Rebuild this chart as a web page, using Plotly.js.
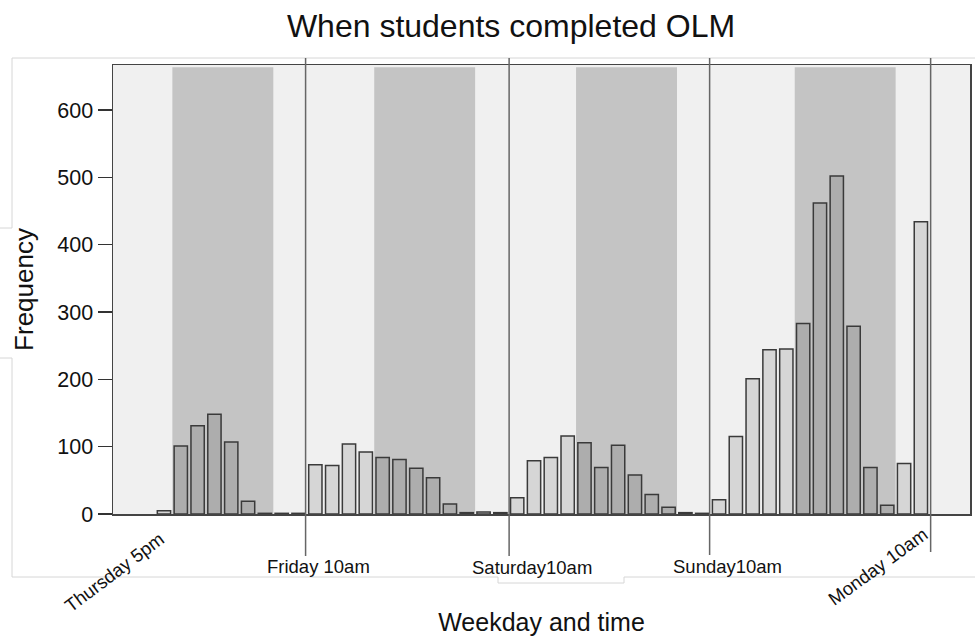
<!DOCTYPE html>
<html>
<head>
<meta charset="utf-8">
<script src="https://cdn.plot.ly/plotly-3.0.1.min.js"></script>
<style>
  html, body { margin: 0; padding: 0; background: #ffffff; }
  #chart { width: 975px; height: 639px; }
</style>
</head>
<body>
<div id="chart"></div>
<script>
// ---- data ----
// two-hour bins starting Thursday 5pm
const bins = [0, 1, 2, 3, 4, 5, 6, 7, 8,
  9, 10, 11, 12, 13, 14, 15, 16, 17, 18, 19, 20,
  21, 22, 23, 24, 25, 26, 27, 28, 29, 30, 31, 32,
  33, 34, 35, 36, 37, 38, 39, 40, 41, 42, 43, 44, 45];
const frequency = [5, 101, 131, 148, 107, 19, 1, 1, 1,
  73, 72, 104, 92, 84, 81, 68, 54, 15, 2, 3, 2,
  24, 79, 84, 116, 106, 69, 102, 58, 29, 10, 2, 1,
  21, 115, 201, 244, 245, 283, 462, 502, 279, 69, 13, 75, 434];
// shaded (night) periods, in bin units
const nightStart = [0.5, 12.5, 24.5, 37.5];
const nightEnd = [6.5, 18.5, 30.5, 43.5];
// day markers
const markerX = [8.42, 20.52, 32.44, 45.58];
const dayLabels = ['Thursday 5pm', 'Friday 10am', 'Saturday10am', 'Sunday10am', 'Monday 10am'];
const dayLabelX = [-2.99, 9.18, 21.88, 33.49, 42.43];
const yTicks = [0, 100, 200, 300, 400, 500, 600];

// ---- layout geometry ----
const W = 975, H = 639;
const M = {l: 113, r: 5, t: 65, b: 125};
const PW = W - M.l - M.r, PH = H - M.t - M.b;
const px = x => (x - M.l) / PW;
const py = y => (M.t + PH - y) / PH;

const FONT = 'Liberation Sans, Arial, sans-serif';

function isNight(b) {
  for (let i = 0; i < nightStart.length; i++) {
    if (b > nightStart[i] && b < nightEnd[i]) return true;
  }
  return false;
}
const barColors = bins.map(b => isNight(b) ? '#adadad' : '#d6d6d6');

const shapes = [];
// shaded night periods
for (let i = 0; i < nightStart.length; i++) {
  shapes.push({type: 'rect', xref: 'x', yref: 'paper', x0: nightStart[i], x1: nightEnd[i],
    y0: 0, y1: 0.995, fillcolor: '#c4c4c4', line: {width: 0}, layer: 'below'});
}
// day marker lines
const lineBottoms = [556, 556, 555, 552];
for (let i = 0; i < markerX.length; i++) {
  shapes.push({type: 'line', xref: 'x', yref: 'paper', x0: markerX[i], x1: markerX[i],
    y0: py(lineBottoms[i]), y1: py(58), line: {color: '#666666', width: 1.5}, layer: 'above'});
}
// light outer frame of the original picture
const frameSegs = [
  [12, 58, 975, 58], [12, 58, 12, 228], [0, 228, 12, 228], [0, 358, 12, 358], [12, 358, 12, 577],
  [12, 577, 498, 577], [498, 577, 498, 583], [498, 583, 624, 583], [624, 583, 624, 577], [624, 577, 975, 577]
];
frameSegs.forEach(s => shapes.push({type: 'line', xref: 'paper', yref: 'paper',
  x0: px(s[0]), y0: py(s[1]), x1: px(s[2]), y1: py(s[3]), line: {color: '#d6d6d6', width: 1}, layer: 'below'}));

const annotations = [];
const labelY = [572, 566, 567, 566, 566];
const labelAngle = [-37, 0, 0, 0, -36];
for (let i = 0; i < dayLabels.length; i++) {
  annotations.push({text: dayLabels[i], xref: 'x', yref: 'paper', x: dayLabelX[i], y: py(labelY[i]),
    xanchor: 'center', yanchor: 'middle', showarrow: false, textangle: labelAngle[i],
    font: {family: FONT, size: 18.5, color: '#111111'}});
}

const trace = {
  type: 'bar',
  x: bins,
  y: frequency,
  width: 0.79,
  marker: {color: barColors, line: {color: '#3a3a3a', width: 1.5}},
  hoverinfo: 'x+y'
};

const layout = {
  width: W, height: H,
  margin: M,
  paper_bgcolor: '#ffffff',
  plot_bgcolor: '#f0f0f0',
  showlegend: false,
  title: {text: 'When students completed OLM', x: 511 / W, xref: 'container', xanchor: 'center',
    y: 1 - 26 / H, yref: 'container', yanchor: 'middle',
    font: {family: FONT, size: 32, color: '#111111'}},
  xaxis: {
    range: [-3.03, 47.92],
    showticklabels: false, ticks: '', showgrid: false, zeroline: false,
    showline: true, mirror: true, linecolor: '#444444', linewidth: 1.5,
    automargin: false,
    title: {text: 'Weekday and time', standoff: 99, font: {family: FONT, size: 25, color: '#111111'}}
  },
  yaxis: {
    range: [0, 667],
    tickvals: yTicks,
    ticks: 'outside', ticklen: 14, tickwidth: 1.5, tickcolor: '#333333',
    tickfont: {family: FONT, size: 21.5, color: '#111111'},
    showgrid: false, zeroline: false,
    showline: true, mirror: true, linecolor: '#444444', linewidth: 1.5,
    automargin: false,
    title: {text: 'Frequency', standoff: 16, font: {family: FONT, size: 26, color: '#111111'}}
  },
  shapes: shapes,
  annotations: annotations,
  bargap: 0.2
};

Plotly.newPlot('chart', [trace], layout, {displayModeBar: false, staticPlot: true});
</script>
</body>
</html>
